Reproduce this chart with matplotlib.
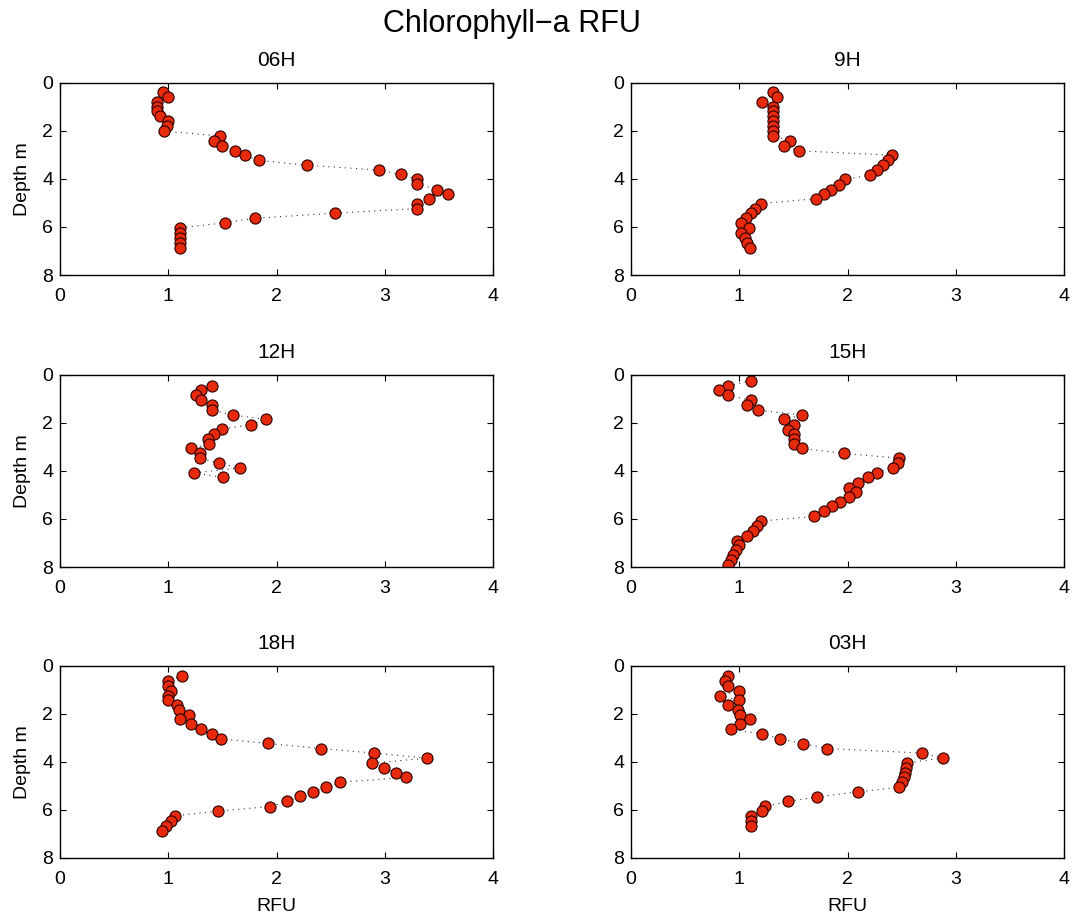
import matplotlib
matplotlib.use("Agg")
import matplotlib.pyplot as plt

plt.rcParams['font.family'] = ['Liberation Sans', 'DejaVu Sans']

titles = ["06H", "9H", "12H", "15H", "18H", "03H"]

rfu_06 = [0.95, 1.00, 0.90, 0.90, 0.90, 0.92, 1.00, 0.99, 0.96, 1.48, 1.42, 1.50, 1.62, 1.71,
          1.84, 2.28, 2.95, 3.15, 3.30, 3.30, 3.48, 3.58, 3.41, 3.30, 3.30, 2.54, 1.80, 1.52,
          1.11, 1.11, 1.11, 1.11, 1.11]
dep_06 = [0.40, 0.62, 0.80, 1.00, 1.19, 1.41, 1.61, 1.81, 2.02, 2.22, 2.44, 2.63, 2.84, 3.03,
          3.24, 3.44, 3.64, 3.82, 4.02, 4.21, 4.45, 4.64, 4.83, 5.03, 5.24, 5.43, 5.64, 5.83,
          6.04, 6.25, 6.45, 6.66, 6.86]

rfu_09 = [1.31, 1.35, 1.21, 1.31, 1.31, 1.31, 1.31, 1.31, 1.31, 1.31, 1.47, 1.41, 1.55, 2.41,
          2.37, 2.33, 2.27, 2.21, 1.98, 1.92, 1.85, 1.78, 1.71, 1.20, 1.15, 1.11, 1.06, 1.02,
          1.09, 1.02, 1.05, 1.07, 1.10]
dep_09 = [0.40, 0.62, 0.82, 1.01, 1.20, 1.41, 1.61, 1.81, 2.02, 2.23, 2.42, 2.62, 2.84, 3.02,
          3.21, 3.42, 3.63, 3.84, 4.03, 4.24, 4.45, 4.64, 4.83, 5.03, 5.24, 5.43, 5.64, 5.83,
          6.04, 6.25, 6.45, 6.66, 6.86]

rfu_12 = [1.40, 1.30, 1.26, 1.30, 1.40, 1.40, 1.60, 1.90, 1.76, 1.50, 1.42, 1.37, 1.38, 1.21,
          1.29, 1.29, 1.47, 1.66, 1.24, 1.51]
dep_12 = [0.47, 0.66, 0.87, 1.08, 1.27, 1.48, 1.68, 1.87, 2.09, 2.27, 2.47, 2.67, 2.89, 3.07,
          3.28, 3.48, 3.68, 3.88, 4.09, 4.28]

rfu_15 = [1.11, 0.90, 0.81, 0.90, 1.11, 1.07, 1.17, 1.58, 1.41, 1.51, 1.45, 1.51, 1.51, 1.51,
          1.58, 1.97, 2.48, 2.47, 2.42, 2.27, 2.19, 2.10, 2.01, 2.08, 2.01, 1.93, 1.86, 1.78,
          1.69, 1.20, 1.16, 1.13, 1.07, 0.98, 1.00, 0.97, 0.94, 0.92, 0.90]
dep_15 = [0.26, 0.47, 0.66, 0.87, 1.07, 1.27, 1.48, 1.68, 1.87, 2.08, 2.29, 2.48, 2.69, 2.88,
          3.07, 3.28, 3.48, 3.67, 3.89, 4.09, 4.28, 4.49, 4.70, 4.89, 5.10, 5.29, 5.48, 5.69,
          5.90, 6.09, 6.30, 6.50, 6.70, 6.90, 7.09, 7.30, 7.49, 7.70, 7.90]

rfu_18 = [1.13, 1.00, 1.00, 1.03, 1.00, 1.00, 1.08, 1.10, 1.19, 1.11, 1.21, 1.30, 1.40, 1.49,
          1.92, 2.41, 2.90, 3.39, 2.88, 2.99, 3.10, 3.20, 2.59, 2.46, 2.34, 2.22, 2.10, 1.94,
          1.46, 1.06, 1.03, 0.98, 0.94]
dep_18 = [0.43, 0.64, 0.84, 1.05, 1.25, 1.45, 1.65, 1.86, 2.05, 2.24, 2.45, 2.65, 2.85, 3.05,
          3.24, 3.45, 3.64, 3.85, 4.06, 4.25, 4.46, 4.65, 4.85, 5.06, 5.25, 5.44, 5.65, 5.86,
          6.05, 6.25, 6.45, 6.66, 6.87]

rfu_03 = [0.90, 0.87, 0.90, 1.00, 0.82, 1.00, 0.90, 0.99, 1.01, 1.10, 1.01, 0.92, 1.21, 1.38,
          1.59, 1.81, 2.69, 2.88, 2.55, 2.54, 2.53, 2.52, 2.50, 2.48, 2.10, 1.72, 1.45, 1.24,
          1.21, 1.11, 1.11, 1.11]
dep_03 = [0.43, 0.64, 0.84, 1.05, 1.25, 1.45, 1.65, 1.86, 2.05, 2.24, 2.45, 2.65, 2.84, 3.05,
          3.25, 3.45, 3.64, 3.85, 4.04, 4.25, 4.45, 4.65, 4.85, 5.06, 5.25, 5.46, 5.65, 5.85,
          6.05, 6.25, 6.45, 6.66]

series = [(rfu_06, dep_06), (rfu_09, dep_09), (rfu_12, dep_12),
          (rfu_15, dep_15), (rfu_18, dep_18), (rfu_03, dep_03)]

x_ticks = [0, 1, 2, 3, 4]
y_ticks = [0, 2, 4, 6, 8]

W, H = 1075, 917
fig = plt.figure(figsize=(W / 100, H / 100), dpi=100)

lefts = [60, 631]
bottoms = [275, 567, 858]
aw, ah = 433, 192.5

for i, (title, (x, d)) in enumerate(zip(titles, series)):
    r, c = divmod(i, 2)
    ax = fig.add_axes([lefts[c] / W, 1 - bottoms[r] / H, aw / W, ah / H])
    ax.plot(x, d, linestyle=(0, (1, 4)), color='#333333', linewidth=0.8,
            marker='o', markersize=8, markerfacecolor='#e82a0c',
            markeredgecolor='#2a0000', markeredgewidth=0.8)
    ax.set_xlim(0, 4)
    ax.set_ylim(8, 0)
    ax.set_xticks(x_ticks)
    ax.set_yticks(y_ticks)
    ax.tick_params(direction='in', top=True, right=True, length=4, width=0.8,
                   labelsize=14)
    ax.tick_params(axis='x', pad=9.5)
    ax.tick_params(axis='y', pad=5)
    for s in ax.spines.values():
        s.set_linewidth(1.0)
    ax.set_title(title, fontsize=15, pad=12)
    if c == 0:
        ax.set_ylabel("Depth m", fontsize=14, labelpad=8)
    if r == 2:
        ax.set_xlabel("RFU", fontsize=14, labelpad=7)

fig.text(512 / W, 1 - 24 / H, "Chlorophyll\u2212a RFU", fontsize=22,
         ha='center', va='center')

fig.savefig("out.png", dpi=100)
